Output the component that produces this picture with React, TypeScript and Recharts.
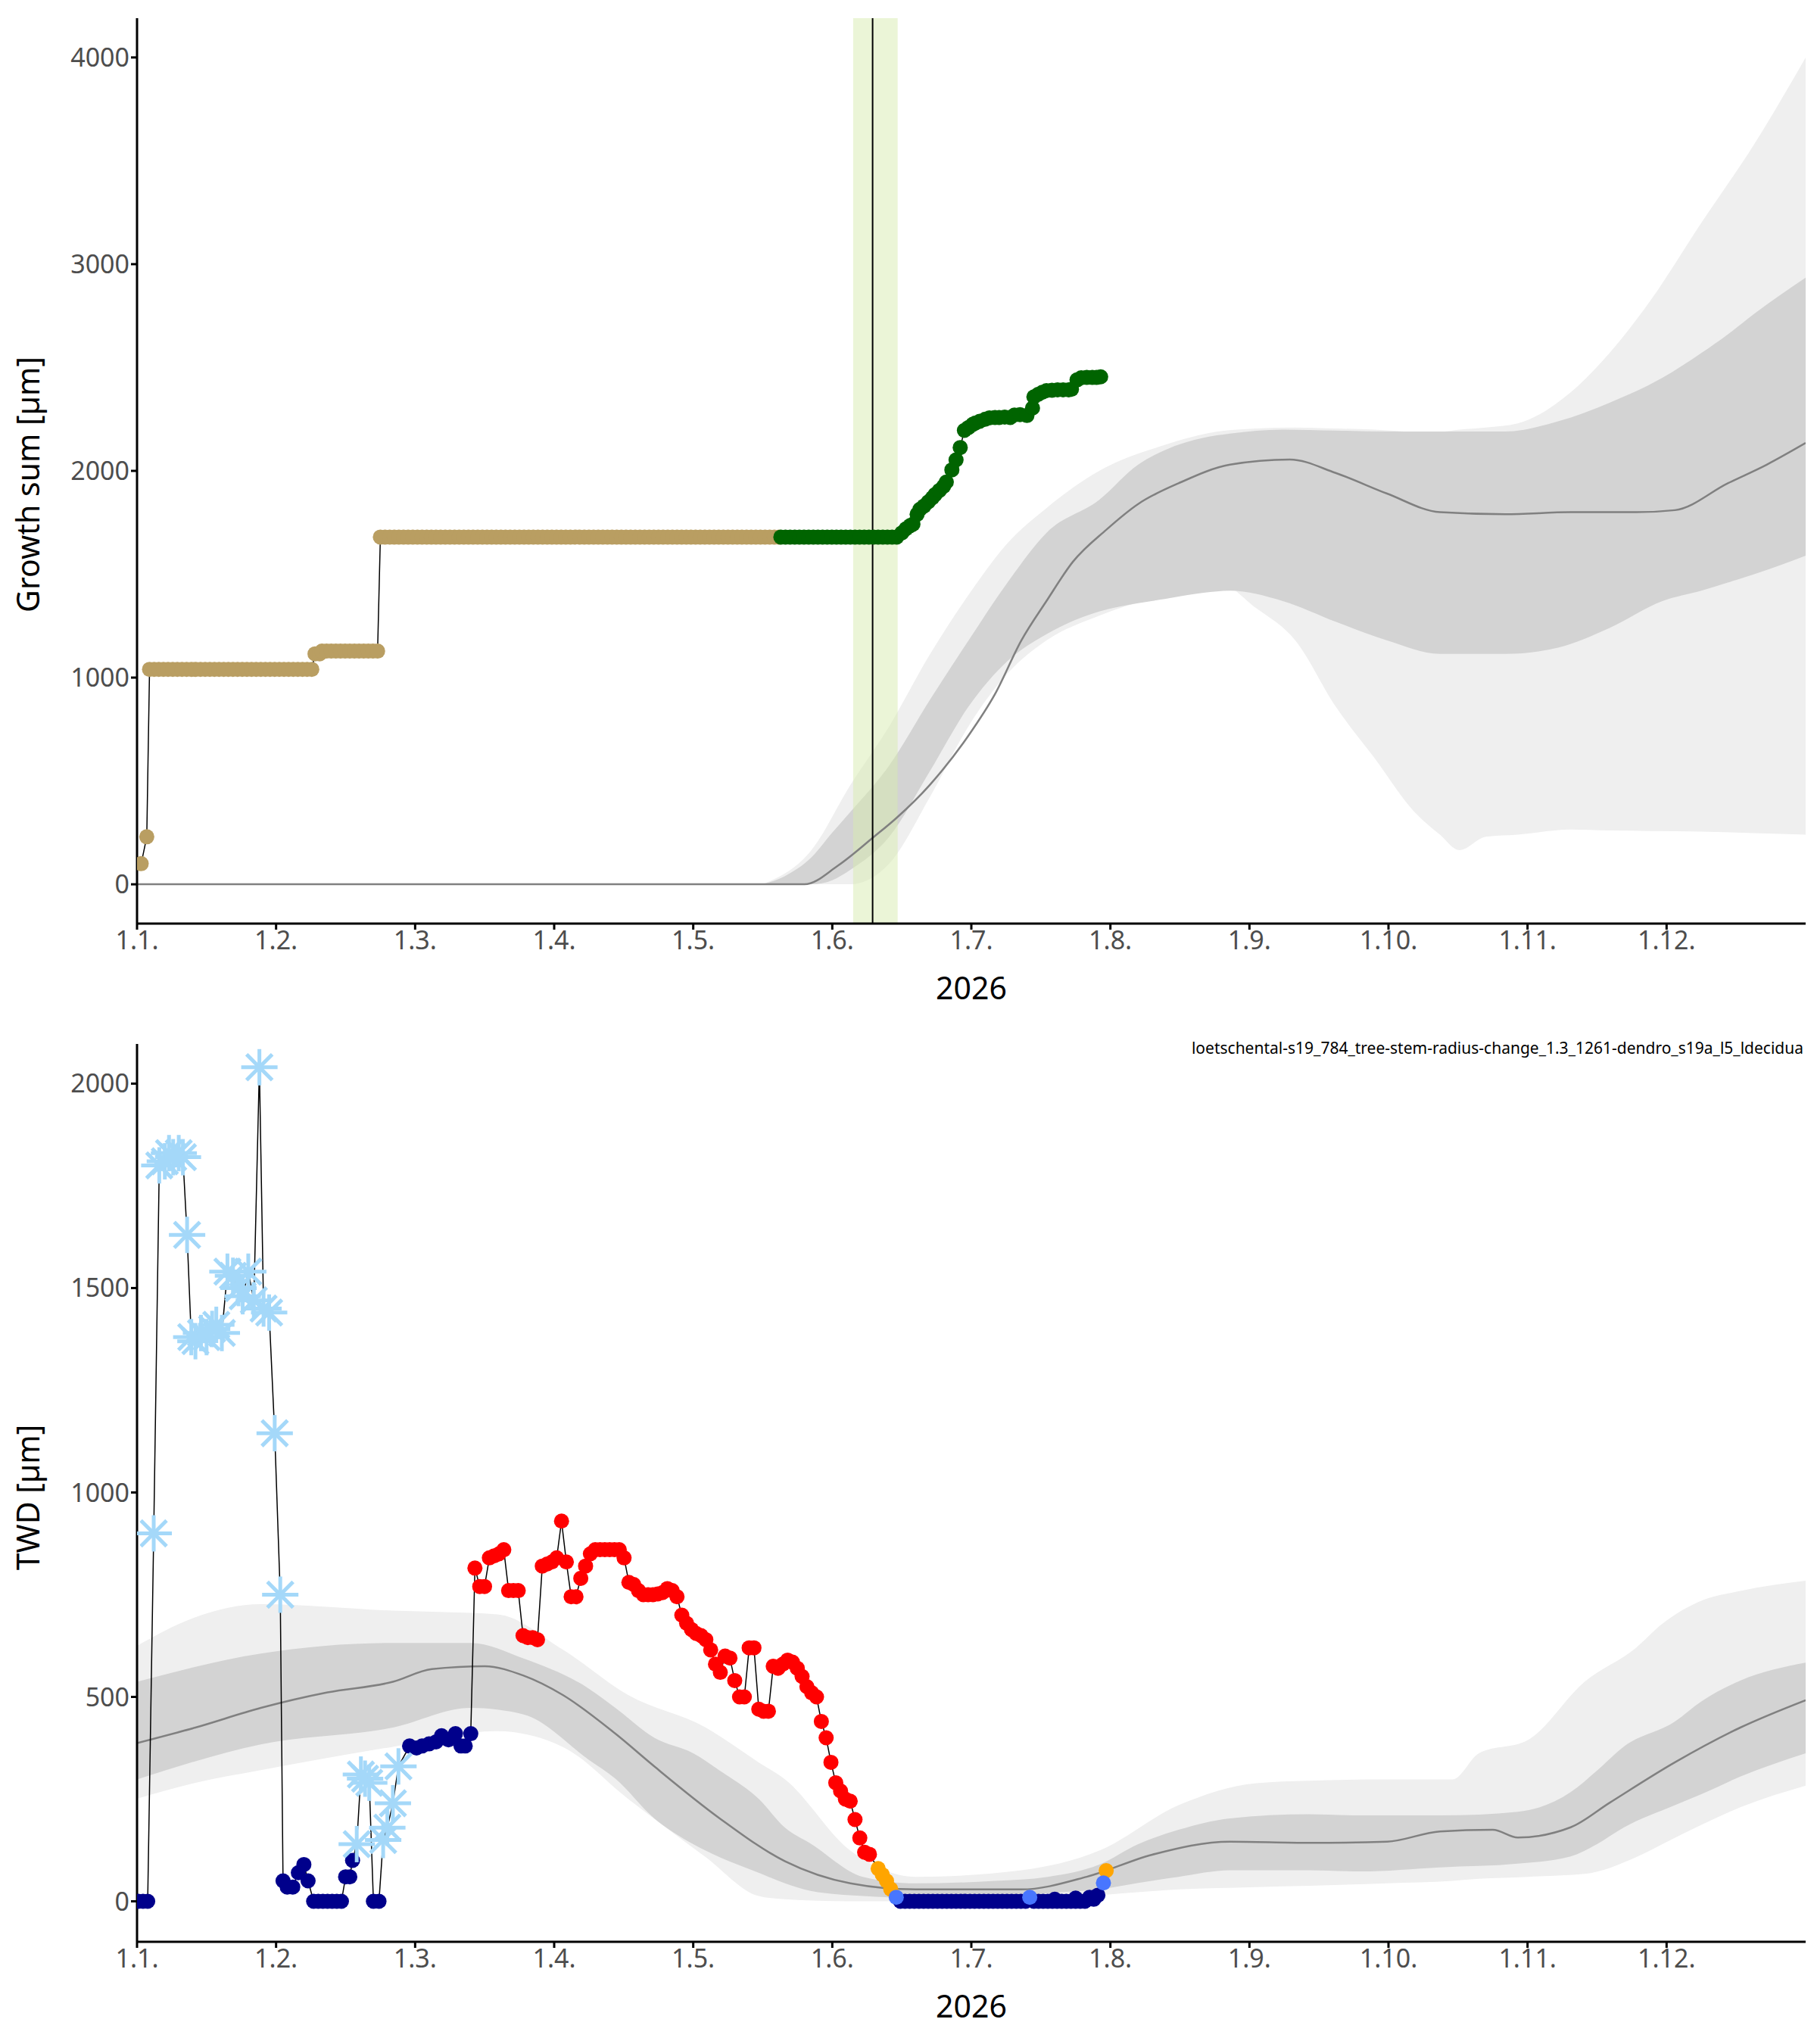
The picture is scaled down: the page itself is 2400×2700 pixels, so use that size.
import React from 'react';
import {
  ComposedChart, Line, Area, Scatter, XAxis, YAxis, ReferenceArea, ReferenceLine,
} from 'recharts';

// x is in months since 1 Jan 2026 (one tick per month start)
const monthTicks = [0, 1, 2, 3, 4, 5, 6, 7, 8, 9, 10, 11];
const growthTicks = [0, 1000, 2000, 3000, 4000];
const twdTicks = [0, 500, 1000, 1500, 2000];

const STEP = 1 / 30;

// constant stretches of the daily series: [from, to, value]
const growthTanRuns = [[0.09, 1.27, 1040], [1.28, 1.32, 1115], [1.33, 1.74, 1128], [1.75, 4.62, 1680]];
const growthTanExtra = [[0.03, 100], [0.07, 230]];
const growthGreenRuns = [[4.63, 5.47, 1680]];
const growthGreenRise = [
  [5.5, 1700], [5.53, 1720], [5.56, 1735], [5.58, 1742], [5.61, 1790], [5.63, 1814], [5.66, 1830],
  [5.69, 1850], [5.72, 1870], [5.74, 1886], [5.77, 1905], [5.8, 1925], [5.82, 1946], [5.86, 2005],
  [5.89, 2053], [5.92, 2113], [5.95, 2196], [5.98, 2210], [6.01, 2225], [6.03, 2232], [6.06, 2240],
  [6.1, 2250], [6.13, 2256], [6.17, 2258], [6.2, 2258], [6.24, 2260], [6.28, 2258], [6.31, 2270],
  [6.35, 2272], [6.4, 2268], [6.44, 2304], [6.45, 2358], [6.48, 2370], [6.51, 2380], [6.54, 2388],
  [6.58, 2390], [6.62, 2392], [6.66, 2392], [6.7, 2392], [6.72, 2395], [6.76, 2440], [6.79, 2450],
  [6.83, 2452], [6.87, 2452], [6.9, 2452], [6.93, 2455],
];

const growthMedian = [
  [0, 0], [4.8, 0], [5.04, 90], [5.3, 230], [5.46, 320], [5.7, 480], [5.98, 720], [6.17, 920],
  [6.36, 1180], [6.54, 1370], [6.73, 1560], [6.97, 1715], [7.2, 1840], [7.49, 1940], [7.86, 2030],
  [8.29, 2055], [8.62, 1990], [8.99, 1890], [9.37, 1800], [9.84, 1790], [10.31, 1800], [10.78, 1800],
  [11.06, 1810], [11.44, 1940], [11.72, 2030], [12, 2135],
];
const growthInner = [
  [4.5, 0, 0], [4.66, 0, 40], [4.85, 0, 130], [5.0, 20, 250], [5.13, 70, 350], [5.41, 230, 575],
  [5.7, 545, 890], [5.98, 860, 1180], [6.26, 1080, 1460], [6.54, 1210, 1700], [6.92, 1320, 1860],
  [7.2, 1360, 2030], [7.39, 1380, 2100], [7.67, 1410, 2160], [7.86, 1420, 2180], [8.24, 1370, 2200],
  [8.62, 1270, 2195], [8.99, 1180, 2190], [9.37, 1115, 2190], [9.84, 1115, 2190], [10.22, 1145, 2240],
  [10.59, 1240, 2330], [10.97, 1370, 2450], [11.25, 1420, 2570], [11.44, 1460, 2660], [11.63, 1500, 2760],
  [12, 1590, 2935],
];
const growthOuter = [
  [4.5, 0, 0], [4.85, 0, 165], [5.13, 0, 480], [5.41, 100, 765], [5.7, 420, 1110], [5.98, 765, 1400],
  [6.26, 1020, 1650], [6.54, 1180, 1820], [6.92, 1300, 2000], [7.39, 1400, 2125], [7.77, 1460, 2190],
  [8.05, 1335, 2205], [8.33, 1180, 2210], [8.62, 860, 2205], [8.9, 610, 2200], [9.18, 355, 2190],
  [9.37, 240, 2190], [9.51, 165, 2200], [9.7, 230, 2210], [9.93, 240, 2230], [10.31, 265, 2380],
  [10.59, 260, 2570], [10.88, 258, 2820], [11.25, 255, 3200], [11.63, 248, 3580], [12, 240, 4000],
];

const twdMedian = [
  [0, 387], [0.42, 425], [0.89, 473], [1.37, 511], [1.84, 537], [2.12, 568], [2.5, 575], [2.78, 552],
  [3.06, 505], [3.44, 410], [3.72, 330], [4.19, 203], [4.66, 98], [5.13, 44], [5.6, 29], [6.36, 29],
  [6.83, 60], [7.3, 114], [7.86, 146], [8.43, 143], [8.99, 146], [9.37, 171], [9.75, 175], [9.93, 156],
  [10.31, 181], [10.59, 241], [11.06, 340], [11.53, 425], [12, 492],
];
const twdInner = [
  [0, 298, 537], [0.89, 384, 606], [1.84, 425, 632], [2.4, 473, 632], [2.78, 457, 594], [3.25, 346, 520],
  [3.44, 300, 473], [3.72, 203, 400], [4.0, 140, 362], [4.19, 108, 320], [4.47, 70, 251], [4.66, 44, 180],
  [4.85, 25, 140], [5.22, 13, 60], [5.6, 8, 44], [6.17, 6, 50], [6.55, 20, 60], [6.92, 29, 90], [7.2, 45, 140],
  [7.49, 60, 175], [7.86, 76, 203], [8.43, 76, 213], [8.8, 73, 210], [9.37, 83, 210], [9.93, 92, 219],
  [10.31, 110, 267], [10.5, 140, 320], [10.69, 180, 378], [11.06, 235, 440], [11.25, 262, 489],
  [11.53, 305, 540], [12, 362, 584],
];
const twdOuter = [
  [0, 251, 625], [0.42, 290, 695], [0.89, 321, 727], [1.84, 378, 711], [2.59, 416, 702], [3.06, 378, 616],
  [3.53, 251, 505], [4.09, 108, 425], [4.47, 13, 340], [4.66, 5, 298], [5.13, 0, 124], [5.6, 0, 60],
  [6.36, 0, 76], [6.92, 15, 124], [7.49, 29, 235], [8.05, 35, 289], [8.43, 38, 295], [8.99, 44, 298],
  [9.46, 50, 298], [9.65, 55, 362], [10.0, 60, 394], [10.41, 67, 537], [10.78, 108, 620], [10.97, 140, 679],
  [11.25, 187, 735], [11.53, 230, 759], [12, 283, 784],
];

const twdNavyRuns = [[0.01, 0.1, 0], [1.27, 1.48, 0], [5.49, 6.39, 0], [6.45, 6.83, 0]];
const twdNavyExtra = [
  [1.05, 50], [1.08, 35], [1.12, 35], [1.16, 70], [1.2, 90], [1.23, 50], [1.5, 60], [1.53, 60], [1.55, 100],
  [1.7, 0], [1.74, 0], [1.96, 380], [2.01, 375], [2.05, 380], [2.1, 385], [2.15, 390], [2.19, 405],
  [2.24, 395], [2.29, 410], [2.33, 380], [2.36, 380], [2.4, 410], [6.6, 5], [6.75, 8], [6.85, 10],
  [6.88, 5], [6.91, 15],
];
const twdFrost = [
  [0.12, 900], [0.16, 1800], [0.2, 1810], [0.23, 1830], [0.26, 1820], [0.3, 1830], [0.33, 1820],
  [0.36, 1630], [0.39, 1380], [0.42, 1370], [0.46, 1390], [0.5, 1380], [0.54, 1400], [0.57, 1410],
  [0.61, 1390], [0.65, 1540], [0.69, 1530], [0.73, 1500], [0.76, 1480], [0.8, 1540], [0.84, 1470],
  [0.88, 2040], [0.91, 1450], [0.95, 1440], [0.99, 1145], [1.03, 750], [1.58, 140], [1.61, 310],
  [1.64, 300], [1.67, 290], [1.77, 150], [1.8, 180], [1.84, 240], [1.88, 330],
];
const twdRedStart = 2.43;
const twdRedStep = 0.0346;
const twdRedValues = [
  815, 770, 770, 840, 845, 850, 860, 760, 760, 760, 650, 645, 645, 640, 820, 825, 830, 840, 930, 830,
  745, 745, 790, 820, 850, 860, 860, 860, 860, 860, 860, 840, 780, 775, 760, 750, 750, 750, 752, 755,
  765, 760, 745, 700, 680, 665, 655, 650, 640, 615, 580, 560, 600, 595, 540, 500, 500, 620, 620, 470,
  465, 465, 575, 570, 580, 590, 585, 570, 550, 525, 510, 500, 440, 400, 340, 290, 270, 250, 245, 200,
  155, 120, 115,
];
const twdOrange = [[5.33, 80], [5.36, 65], [5.39, 50], [5.42, 30], [6.97, 75]];
const twdBlue = [[5.46, 10], [6.42, 10], [6.95, 45]];

const expand = (runs: number[][]) => {
  const out: { x: number; y: number }[] = [];
  runs.forEach(([a, b, v]) => {
    for (let x = a; x <= b + 1e-9; x += STEP) out.push({ x, y: v });
  });
  return out;
};
const pts = (arr: number[][]) => arr.map(([x, y]) => ({ x, y }));
const band = (arr: number[][]) => arr.map(([x, lo, hi]) => ({ x, r: [lo, hi] }));
const byX = (a: { x: number }, b: { x: number }) => a.x - b.x;

const growthTan = [...pts(growthTanExtra), ...expand(growthTanRuns)].sort(byX);
const growthGreen = [...expand(growthGreenRuns), ...pts(growthGreenRise)].sort(byX);
const growthAll = [...growthTan, ...growthGreen].sort(byX);

const twdNavy = [...expand(twdNavyRuns), ...pts(twdNavyExtra)].sort(byX);
const twdRed = twdRedValues.map((y, i) => ({ x: twdRedStart + i * twdRedStep, y }));
const twdAll = [...twdNavy, ...pts(twdFrost), ...twdRed, ...pts(twdOrange), ...pts(twdBlue)].sort(byX);

const FONT = 'Noto Sans, Open Sans, sans-serif';
const W = 2400;
const H = 1350;

const dot = (color: string) => (p: any) => <circle cx={p.cx} cy={p.cy} r={10} fill={color} />;
const asterisk = (color: string) => (p: any) => {
  const r = 24;
  const d = r * 0.7071;
  return (
    <g stroke={color} strokeWidth={5}>
      <line x1={p.cx - r} y1={p.cy} x2={p.cx + r} y2={p.cy} />
      <line x1={p.cx} y1={p.cy - r} x2={p.cx} y2={p.cy + r} />
      <line x1={p.cx - d} y1={p.cy - d} x2={p.cx + d} y2={p.cy + d} />
      <line x1={p.cx - d} y1={p.cy + d} x2={p.cx + d} y2={p.cy - d} />
    </g>
  );
};

const tickStyle = { fontSize: 34, fill: '#4d4d4d', fontFamily: FONT };

const xAxis = (
  <XAxis
    dataKey="x" type="number" domain={[0, 12]} ticks={monthTicks} allowDataOverflow
    tickFormatter={(v: number) => `1.${v + 1}.`} tick={tickStyle}
    stroke="#000" strokeWidth={3} tickSize={8} height={130}
    label={{ value: '2026', position: 'insideBottom', offset: 30, style: { fontSize: 41, fill: '#000', fontFamily: FONT } }}
  />
);

const yTitle = (value: string, y: number) => (
  <text x={0} y={0} transform={`translate(52 ${y}) rotate(-90)`} textAnchor="middle"
    fontSize={41} fontFamily={FONT} fill="#000">{value}</text>
);

export default function App() {
  return (
    <div style={{ position: 'absolute', left: 0, top: 0, width: W, height: 2700, background: '#fff' }}>
      <ComposedChart width={W} height={H} margin={{ top: 24, right: 15, bottom: 0, left: 0 }}>
        {xAxis}
        <YAxis
          type="number" domain={[-190, 4190]} ticks={growthTicks} allowDataOverflow
          tick={tickStyle} stroke="#000" strokeWidth={3} tickSize={8} width={181}
        />
        <Area data={band(growthOuter)} dataKey="r" type="monotone" stroke="none" fill="#efefef" fillOpacity={1} isAnimationActive={false} />
        <Area data={band(growthInner)} dataKey="r" type="monotone" stroke="none" fill="#d3d3d3" fillOpacity={1} isAnimationActive={false} />
        <Line data={pts(growthMedian)} dataKey="y" type="monotone" stroke="#808080" strokeWidth={2.5} dot={false} isAnimationActive={false} />
        <Line data={growthAll} dataKey="y" type="linear" stroke="#000" strokeWidth={1.5} dot={false} isAnimationActive={false} />
        <Scatter data={growthTan} dataKey="y" shape={dot('#b99e62')} isAnimationActive={false} />
        <Scatter data={growthGreen} dataKey="y" shape={dot('#006400')} isAnimationActive={false} />
        <ReferenceArea x1={5.15} x2={5.47} fill="#d8ebb0" fillOpacity={0.5} stroke="none" />
        <ReferenceLine x={5.29} stroke="#000" strokeWidth={2} />
        {yTitle('Growth sum [µm]', 640)}
      </ComposedChart>
      <ComposedChart width={W} height={H} margin={{ top: 29, right: 15, bottom: 5, left: 0 }}>
        {xAxis}
        <YAxis
          type="number" domain={[-99, 2097]} ticks={twdTicks} allowDataOverflow
          tick={tickStyle} stroke="#000" strokeWidth={3} tickSize={8} width={181}
        />
        <Area data={band(twdOuter)} dataKey="r" type="monotone" stroke="none" fill="#efefef" fillOpacity={1} isAnimationActive={false} />
        <Area data={band(twdInner)} dataKey="r" type="monotone" stroke="none" fill="#d3d3d3" fillOpacity={1} isAnimationActive={false} />
        <Line data={pts(twdMedian)} dataKey="y" type="monotone" stroke="#808080" strokeWidth={2.5} dot={false} isAnimationActive={false} />
        <Line data={twdAll} dataKey="y" type="linear" stroke="#000" strokeWidth={1.5} dot={false} isAnimationActive={false} />
        <Scatter data={twdNavy} dataKey="y" shape={dot('#00008b')} isAnimationActive={false} />
        <Scatter data={twdRed} dataKey="y" shape={dot('#ff0000')} isAnimationActive={false} />
        <Scatter data={pts(twdOrange)} dataKey="y" shape={dot('#ffa500')} isAnimationActive={false} />
        <Scatter data={pts(twdBlue)} dataKey="y" shape={dot('#4876ff')} isAnimationActive={false} />
        <Scatter data={pts(twdFrost)} dataKey="y" shape={asterisk('#a4d8f9')} isAnimationActive={false} />
        {yTitle('TWD [µm]', 628)}
        <text x={2382} y={42} textAnchor="end" fontSize={21} fontFamily={FONT} fill="#000">
          loetschental-s19_784_tree-stem-radius-change_1.3_1261-dendro_s19a_l5_ldecidua
        </text>
      </ComposedChart>
    </div>
  );
}
